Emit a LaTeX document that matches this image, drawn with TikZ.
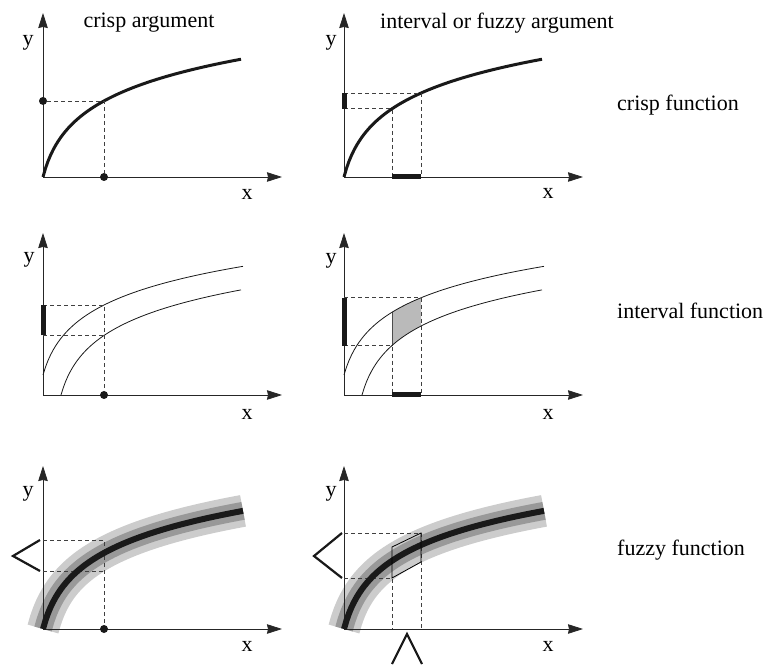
\documentclass[tikz,border=0pt]{standalone}
\usepackage{fontspec}
\setmainfont{Liberation Serif}
\usetikzlibrary{arrows.meta}

\begin{document}
\begin{tikzpicture}[
    x=1pt, y=1pt,
    declare function={fc(\u)=38.8*ln(1+\u/10);
                      fup(\u)=20+0.92*fc(\u);
                      flo(\u)=0.92*fc(\u-18);},
    axis/.style={-{Stealth[length=15pt,width=9.5pt,inset=1pt]}, line width=0.8pt, black!85},
    guide/.style={dash pattern=on 4pt off 3pt, line width=0.8pt, black!75},
    crispcurve/.style={line width=3pt, black!90},
    ivcurve/.style={line width=0.8pt, black!90},
    ivbar/.style={line width=5pt, black!90},
    dot/.style={circle, fill=black!90, inner sep=0pt, minimum size=8pt},
    lbl/.style={font=\fontsize{22}{26}\selectfont, inner sep=0pt},
    fzmark/.style={line width=2.2pt, black!90},
    band/.style={line width=32pt, black!20},
    core/.style={line width=18pt, black!40},
]
  \useasboundingbox (0,0) rectangle (770,664);

  % crisp function
  \begin{scope}[shift={(43,487)}]
    \coordinate (oa) at (0,0);
    \coordinate (xa) at (239,0);
    \coordinate (ya) at (0,164);
    \coordinate (ca) at (61,{fc(61)});
    \draw[axis] (oa) -- (xa);
    \draw[axis] (oa) -- (ya);
    \draw[crispcurve] plot[domain=0:198, samples=80] (\x,{fc(\x)});
    \node[dot] (pya) at (0,{fc(61)}) {};
    \node[dot] (pxa) at (61,0) {};
    \draw[guide] (pya) -- (ca) -- (pxa);
    \node[lbl] (ylaba) at (-15,134) {y};
    \node[lbl] (xlaba) at (204,-17) {x};
    \node[lbl] (arga) at (106,154) {crisp argument};
  \end{scope}

  \begin{scope}[shift={(344,487)}]
    \coordinate (ob) at (0,0);
    \coordinate (xb) at (239,0);
    \coordinate (yb) at (0,164);
    \coordinate (lob) at (48,{fc(48)});
    \coordinate (hib) at (77,{fc(77)});
    \coordinate (lyb) at (0,{fc(48)});
    \coordinate (hyb) at (0,{fc(77)});
    \coordinate (lxb) at (48,0);
    \coordinate (hxb) at (77,0);
    \draw[axis] (ob) -- (xb);
    \draw[axis] (ob) -- (yb);
    \draw[crispcurve] plot[domain=0:198, samples=80] (\x,{fc(\x)});
    \draw[guide] (lyb) -- (lob) -- (lxb);
    \draw[guide] (hyb) -- (hib) -- (hxb);
    \draw[ivbar] (lyb) -- (hyb);
    \draw[ivbar] (lxb) -- (hxb);
    \node[lbl] (ylabb) at (-13,134) {y};
    \node[lbl] (xlabb) at (204,-16) {x};
    \node[lbl, anchor=west] (argb) at (36,154) {interval or fuzzy argument};
  \end{scope}

  % interval function
  \begin{scope}[shift={(43,269)}]
    \coordinate (oc) at (0,0);
    \coordinate (xc) at (239,0);
    \coordinate (yc) at (0,162);
    \coordinate (upc) at (61,{fup(61)});
    \coordinate (loc) at (61,{flo(61)});
    \coordinate (uyc) at (0,{fup(61)});
    \coordinate (lyc) at (0,{flo(61)});
    \draw[axis] (oc) -- (xc);
    \draw[axis] (oc) -- (yc);
    \draw[ivcurve] plot[domain=0:200, samples=80] (\x,{fup(\x)});
    \draw[ivcurve] plot[domain=18:198, samples=80] (\x,{flo(\x)});
    \node[dot] (pxc) at (61,0) {};
    \draw[guide] (uyc) -- (upc) -- (pxc);
    \draw[guide] (lyc) -- (loc);
    \draw[ivbar] (lyc) -- (uyc);
    \node[lbl] (ylabc) at (-14,135) {y};
    \node[lbl] (xlabc) at (204,-19) {x};
  \end{scope}

  \begin{scope}[shift={(344,269)}]
    \coordinate (od) at (0,0);
    \coordinate (xd) at (239,0);
    \coordinate (yd) at (0,162);
    \coordinate (lod) at (48,{flo(48)});
    \coordinate (hid) at (77,{fup(77)});
    \coordinate (lyd) at (0,{flo(48)});
    \coordinate (hyd) at (0,{fup(77)});
    \coordinate (lxd) at (48,0);
    \coordinate (hxd) at (77,0);
    \fill[black!27] plot[domain=48:77, samples=20] (\x,{fup(\x)})
        -- plot[domain=77:48, samples=20] (\x,{flo(\x)}) -- cycle;
    \draw[line width=0.6pt, black!70] (48,{fup(48)}) -- (lod);
    \draw[axis] (od) -- (xd);
    \draw[axis] (od) -- (yd);
    \draw[ivcurve] plot[domain=0:200, samples=80] (\x,{fup(\x)});
    \draw[ivcurve] plot[domain=18:198, samples=80] (\x,{flo(\x)});
    \draw[guide] (lyd) -- (lod) -- (lxd);
    \draw[guide] (hyd) -- (hid) -- (hxd);
    \draw[ivbar] (lyd) -- (hyd);
    \draw[ivbar] (lxd) -- (hxd);
    \node[lbl] (ylabd) at (-13,134) {y};
    \node[lbl] (xlabd) at (204,-19) {x};
  \end{scope}

  % fuzzy function
  \begin{scope}[shift={(43,35)}]
    \coordinate (oe) at (0,0);
    \coordinate (xe) at (239,0);
    \coordinate (ye) at (0,163);
    \coordinate (hye) at (0,89);
    \coordinate (lye) at (0,58);
    \coordinate (hie) at (61,89);
    \coordinate (loe) at (61,58);
    \draw[band] plot[domain=0:200, samples=80] (\x,{fc(\x)});
    \draw[core] plot[domain=0:200, samples=80] (\x,{fc(\x)});
    \draw[axis] (oe) -- (xe);
    \draw[axis] (oe) -- (ye);
    \node[dot] (pxe) at (61,0) {};
    \draw[guide] (hye) -- (hie) -- (pxe);
    \draw[guide] (lye) -- (loe);
    \draw[line width=6pt, black!90] plot[domain=0:200, samples=80] (\x,{fc(\x)});
    \draw[fzmark] (-3,89) -- (-30,73) -- (-3,58);
    \node[lbl] (ylabe) at (-15,135) {y};
    \node[lbl] (xlabe) at (204,-17) {x};
  \end{scope}

  \begin{scope}[shift={(344,35)}]
    \coordinate (of) at (0,0);
    \coordinate (xf) at (239,0);
    \coordinate (yf) at (0,163);
    \coordinate (hyf) at (0,96);
    \coordinate (lyf) at (0,51);
    \coordinate (hif) at (77,96);
    \coordinate (lof) at (48,51);
    \coordinate (hxf) at (77,0);
    \coordinate (lxf) at (48,0);
    \draw[band] plot[domain=0:200, samples=80] (\x,{fc(\x)});
    \draw[core] plot[domain=0:200, samples=80] (\x,{fc(\x)});
    \draw[axis] (of) -- (xf);
    \draw[axis] (of) -- (yf);
    \draw[guide] (hyf) -- (hif) -- (hxf);
    \draw[guide] (lyf) -- (lof) -- (lxf);
    \draw[line width=6pt, black!90] plot[domain=0:200, samples=80] (\x,{fc(\x)});
    \draw[line width=0.8pt] (48,82) -- (hif) -- (77,67) -- (lof) -- cycle;
    \draw[fzmark] (-2,96) -- (-30,73) -- (-2,51);
    \draw[fzmark] (48,-35) -- (63,-5) -- (78,-35);
    \node[lbl] (ylabf) at (-13,135) {y};
    \node[lbl] (xlabf) at (204,-17) {x};
  \end{scope}

  \node[lbl, anchor=west] (crispfn) at (617,558.5) {crisp function};
  \node[lbl, anchor=west] (intfn) at (617,353) {interval function};
  \node[lbl, anchor=west] (fuzzyfn) at (617,114) {fuzzy function};
\end{tikzpicture}
\end{document}
